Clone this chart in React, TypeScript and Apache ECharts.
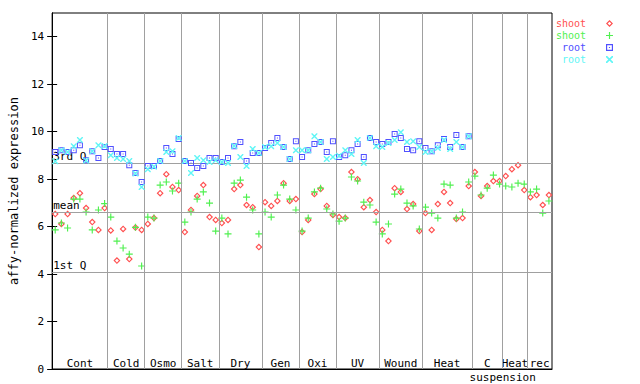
import { useEffect, useRef } from 'react';
import * as echarts from 'echarts';

// ---- data ----
const groupNames = ['Cont', 'Cold', 'Osmo', 'Salt', 'Dry', 'Gen', 'Oxi', 'UV', 'Wound', 'Heat', 'C', 'Heat', 'rec'];
const groupSizes = [9, 6, 6, 6, 7, 6, 6, 7, 7, 8, 5, 4, 4];
const subLabel = 'suspension'; // shared second line for the "C" and "Heat" suspension groups
const subLabelAfterGroup = 10; // placed at the boundary after group index 10 ("C")

const shootRep1 = [
  6.53, 6.11, 6.53, 7.20, 7.41, 6.78, 6.19, 5.86, 6.78,
  5.84, 4.57, 5.90, 4.63, 5.96, 5.86,
  6.11, 6.36, 7.41, 8.21, 7.67, 7.54,
  5.77, 6.70, 7.29, 7.75, 6.40, 6.28,
  6.15, 6.28, 7.58, 7.75, 6.91, 6.82, 5.14,
  7.03, 6.87, 7.08, 7.83, 7.08, 7.16,
  5.77, 6.28, 7.37, 7.58, 6.87, 6.49,
  6.40, 6.36, 8.30, 8.00, 6.82, 7.12, 6.61,
  5.86, 5.39, 7.62, 7.46, 6.74, 6.95, 5.81,
  6.57, 5.86, 6.95, 7.46, 6.99, 6.32, 6.36, 7.71,
  8.30, 7.29, 7.71, 7.92, 7.92,
  8.13, 8.42, 8.59, 7.54,
  7.24, 7.33, 6.91, 7.33,
];
const shootRep2 = [
  5.86, 6.15, 5.94, 7.16, 7.16, 6.61, 5.86, 6.70, 6.97,
  6.40, 5.39, 5.10, 4.84, 5.97, 4.34,
  6.40, 6.36, 7.75, 7.88, 7.50, 7.83,
  6.19, 6.61, 7.16, 7.46, 6.99, 5.81,
  6.36, 5.69, 7.83, 7.96, 7.24, 6.70, 5.69,
  6.61, 6.40, 7.33, 7.75, 7.16, 6.70,
  5.81, 6.36, 7.46, 7.62, 6.74, 6.53,
  6.23, 6.36, 8.09, 7.92, 7.03, 6.91, 6.19,
  5.69, 6.11, 7.37, 7.58, 6.99, 6.87, 5.90,
  6.82, 6.57, 6.36, 7.79, 7.75, 6.36, 6.61, 7.88,
  8.13, 7.33, 7.62, 8.17, 7.79,
  7.71, 7.67, 7.83, 7.79,
  7.46, 7.58, 6.57, 7.08,
];
const rootRep1 = [
  9.14, 9.22, 9.14, 9.22, 9.43, 8.80, 9.18, 8.89, 9.35,
  9.27, 9.06, 9.06, 8.59, 8.26, 7.88,
  8.55, 8.55, 8.76, 9.31, 9.06, 9.69,
  8.76, 8.68, 8.47, 8.55, 8.89, 8.89,
  8.72, 8.89, 9.39, 9.56, 8.76, 9.10, 9.10,
  9.31, 9.52, 9.73, 9.35, 8.85, 9.60,
  8.93, 9.22, 9.48, 9.56, 9.14, 9.60,
  8.93, 9.01, 9.22, 9.48, 8.93, 9.73, 9.56,
  9.48, 9.56, 9.90, 9.73, 9.27, 9.22, 9.60,
  9.31, 9.18, 9.43, 9.69, 9.35, 9.86, 9.35, 9.81,
];
const rootRep2 = [
  8.75, 9.22, 9.14, 9.39, 9.65, 8.78, 9.18, 9.43, 9.40,
  9.01, 8.89, 8.85, 8.76, 8.24, 7.67,
  8.42, 8.52, 8.76, 9.14, 9.17, 9.73,
  8.76, 8.26, 8.89, 8.80, 8.72, 8.80,
  8.72, 8.68, 9.40, 8.93, 8.55, 9.27, 9.10,
  9.35, 9.39, 9.52, 9.35, 8.85, 9.22,
  9.22, 9.22, 9.81, 9.56, 8.85, 8.93,
  8.98, 9.22, 9.06, 9.65, 8.68, 9.73, 9.39,
  9.35, 9.52, 9.65, 9.98, 9.56, 9.60, 9.35,
  9.14, 9.18, 9.31, 9.65, 9.27, 9.56, 9.35, 9.81,
];
const refNames = ['3rd Q', 'mean', '1st Q'];
const refValues = [8.68, 6.61, 4.09];
const yTicks = [0, 2, 4, 6, 8, 10, 12, 14];
const seriesNames = ['shoot rep1', 'shoot rep2', 'root rep1', 'root rep2'];

// ---- styling ----
const FONT = 'DejaVu Sans Mono';
const COLORS = ['#ff5050', '#50f050', '#5050ff', '#60f6f6'];
const SYMBOLS = [
  'path://M3,0L6,3L3,6L0,3Z M3,1.4L1.4,3L3,4.6L4.6,3Z',
  'path://M0,2.5H6V3.5H0Z M2.5,0H3.5V6H2.5Z',
  'path://M0,0H6V6H0Z M1,1V5H5V1Z M2.5,2.5H3.5V3.5H2.5Z',
  'path://M0,0L1,0L6,5L6,6L5,6L0,1Z M6,0L6,1L1,6L0,6L0,5L5,0Z',
];
const SIZES = [7, 7, 6, 6];

export default function App() {
  const ref = useRef<HTMLDivElement>(null);

  useEffect(() => {
    if (!ref.current) return;
    const chart = echarts.init(ref.current, null, { renderer: 'svg' });

    const total = groupSizes.reduce((a, b) => a + b, 0);
    const starts: number[] = [];
    let acc = 0;
    groupSizes.forEach((s) => {
      starts.push(acc);
      acc += s;
    });
    const boundaries = starts.slice(1);
    const centers = groupSizes.map((s, k) => starts[k] + s / 2);
    const subPos = starts[subLabelAfterGroup] + groupSizes[subLabelAfterGroup];

    const nameAt = (v: number) => {
      let best = 0;
      centers.forEach((c, k) => {
        if (Math.abs(c - v) < Math.abs(centers[best] - v)) best = k;
      });
      return groupNames[best];
    };

    const datasets = [shootRep1, shootRep2, rootRep1, rootRep2];
    const textBase = { fontFamily: FONT, fontSize: 11, color: '#000' };

    chart.setOption({
      animation: false,
      backgroundColor: '#fff',
      grid: {
        left: 44, top: 13, width: 508, height: 356,
        show: true, borderColor: '#000', borderWidth: 1,
      },
      legend: {
        orient: 'vertical',
        right: 27,
        top: 18,
        align: 'right',
        itemWidth: 7,
        itemHeight: 7,
        itemGap: 1,
        padding: 0,
        selectedMode: false,
        formatter: (n: string) => n.split(' ')[0],
        textStyle: { fontFamily: FONT, fontSize: 10, lineHeight: 11, padding: [0, 15, 0, 0] },
        data: seriesNames.map((n, k) => ({ name: n, textStyle: { color: COLORS[k] } })),
      },
      xAxis: [
        {
          type: 'value', min: 0, max: total, position: 'bottom',
          axisLine: { show: true, lineStyle: { color: '#000', width: 1 } },
          axisTick: { show: false },
          splitLine: { show: false },
          axisLabel: {
            ...textBase, inside: true, margin: 0,
            customValues: centers,
            formatter: (v: number) => nameAt(v),
          },
        },
        {
          type: 'value', min: 0, max: total, position: 'bottom',
          axisLine: { show: false },
          axisTick: { show: false },
          splitLine: { show: false },
          axisLabel: {
            ...textBase, margin: 3,
            customValues: [subPos],
            formatter: () => subLabel,
          },
        },
      ],
      yAxis: [
        {
          type: 'value', min: 0, max: 15, position: 'left',
          axisLine: { show: true, lineStyle: { color: '#000', width: 1 } },
          axisTick: { show: true, inside: true, length: 5, customValues: yTicks, lineStyle: { color: '#000' } },
          axisLabel: { ...textBase, margin: 8, customValues: yTicks },
          splitLine: { show: false },
          name: 'affy-normalized expression',
          nameLocation: 'middle',
          nameGap: 32,
          nameRotate: 90,
          nameTextStyle: { fontFamily: FONT, fontSize: 12, color: '#000' },
        },
        {
          type: 'value', min: 0, max: 15, position: 'right',
          axisLine: { show: true, lineStyle: { color: '#000', width: 1 } },
          axisTick: { show: true, inside: true, length: 5, customValues: yTicks, lineStyle: { color: '#000' } },
          axisLabel: { show: false },
          splitLine: { show: false },
        },
      ],
      series: [
        {
          type: 'scatter',
          name: 'reference lines',
          data: [],
          silent: true,
          z: 1,
          markLine: {
            silent: true,
            symbol: ['none', 'none'],
            lineStyle: { color: '#a0a0a0', width: 1, type: 'solid' },
            label: { show: false },
            emphasis: { disabled: true },
            data: [
              ...boundaries.map((b) => ({ xAxis: b })),
              ...refValues.map((v, k) => ({
                yAxis: v,
                name: refNames[k],
                label: {
                  show: true,
                  formatter: '{b}',
                  position: 'insideStartTop',
                  distance: [1, 1],
                  ...textBase,
                },
              })),
            ],
          },
        },
        ...datasets.map((arr, k) => ({
          type: 'scatter',
          name: seriesNames[k],
          z: 3 + k,
          symbol: SYMBOLS[k],
          symbolSize: SIZES[k],
          itemStyle: { color: COLORS[k], opacity: 1 },
          emphasis: { disabled: true },
          data: arr.map((v, i) => [i + 0.5, v]),
        })),
      ],
    });

    return () => chart.dispose();
  }, []);

  return (
    <div
      ref={ref}
      style={{ position: 'fixed', left: 0, top: 0, width: 640, height: 384, background: '#fff' }}
    />
  );
}
